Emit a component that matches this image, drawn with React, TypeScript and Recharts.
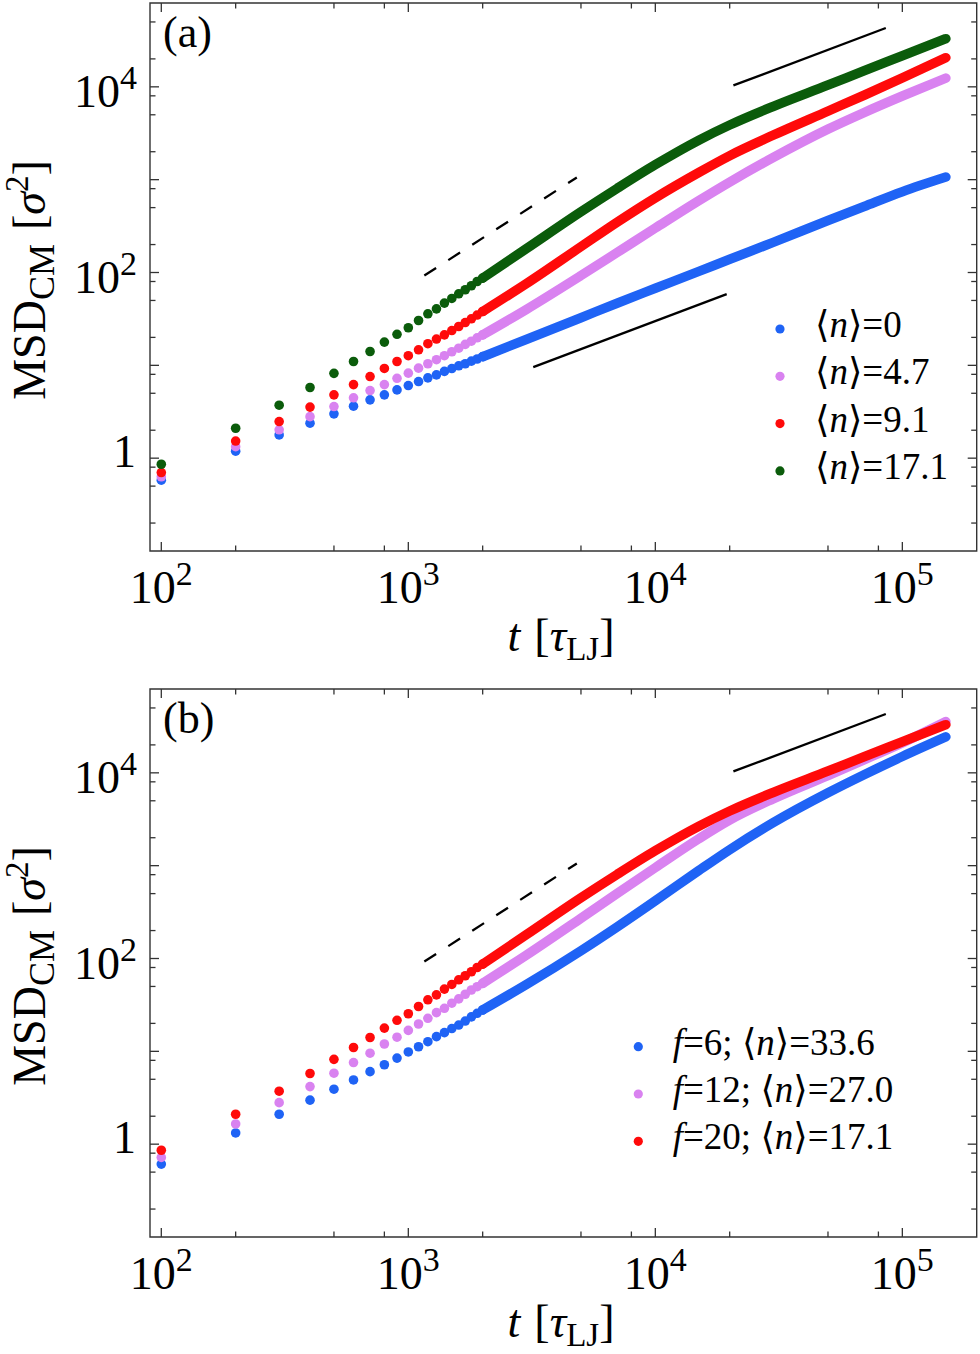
import React from 'react';
import {
  ComposedChart,
  Scatter,
  Line,
  XAxis,
  YAxis,
  ReferenceLine,
  ReferenceArea,
  Legend,
} from 'recharts';

// time points: separate dots up to 2000, dense band after that
const earlyT = [100, 200, 300, 400, 500, 600, 700, 800, 900, 1000, 1100, 1200, 1300, 1400, 1500, 1600, 1700, 1800, 1900, 2000];
const lateT = [2000, 3000, 5000, 7000, 10000, 15000, 20000, 30000, 50000, 70000, 100000, 150000];

// panel (a)
const n0Early = [0.58, 1.19, 1.78, 2.38, 3.0, 3.63, 4.25, 4.81, 5.44, 6.06, 6.69, 7.33, 7.9, 8.6, 9.24, 9.88, 10.4, 11.1, 11.7, 12.4];
const n0Late = [12.4, 18.95, 32.6, 46.7, 67.6, 102.8, 138.9, 211, 363, 515, 743, 1067];
const n47Early = [0.63, 1.33, 2.02, 2.8, 3.6, 4.47, 5.35, 6.2, 7.25, 8.24, 9.33, 10.4, 11.5, 12.7, 14.0, 15.3, 16.8, 18.2, 19.8, 21.3];
const n47Late = [21.3, 39.9, 92.7, 164, 301, 595, 943, 1732, 3502, 5281, 7958, 12430];
const n91Early = [0.7, 1.53, 2.48, 3.55, 4.81, 6.2, 7.57, 9.25, 11.0, 12.7, 14.7, 17.1, 19.2, 21.3, 23.7, 26.2, 28.9, 31.7, 34.8, 38];
const n91Late = [38, 75.7, 190, 348, 638, 1196, 1814, 3011, 5474, 8118, 12500, 20600];
// <n>=17.1 is the f=20 run, shown in both panels
const n171Early = [0.86, 2.1, 3.72, 5.77, 8.2, 11.0, 14.1, 17.8, 21.6, 25.4, 30.4, 35.9, 40.6, 46.8, 52.5, 59, 65.2, 72, 80, 87];
const n171Late = [87, 180, 451, 804, 1450, 2664, 3880, 6150, 10450, 14900, 21600, 33000];

// panel (b)
const f6Early = [0.61, 1.32, 2.1, 2.98, 3.91, 4.92, 6.04, 7.17, 8.46, 9.85, 11.2, 12.7, 14.4, 15.9, 17.6, 19.2, 21.2, 23.5, 25.7, 27.9];
const f6Late = [27.9, 52.3, 121.4, 218.8, 418.8, 887, 1488, 2905, 6095, 9530, 14990, 24390];
const f12Early = [0.72, 1.65, 2.8, 4.17, 5.81, 7.57, 9.55, 12.0, 14.2, 16.8, 19.7, 22.7, 26.1, 29.1, 33, 36.7, 41.2, 45.8, 49.7, 54];
const f12Late = [54, 108.4, 271.8, 501.5, 953, 1950, 3100, 5250, 9367, 13800, 21020, 35600];

// guide lines [t, msd] end points
const dashedGuide = [[1161, 92.8], [4810, 1057]];
const upperGuide = [[20700, 10350], [85700, 43000]];
const lowerGuide = [[3205, 9.56], [19450, 58.5]];

const xTicks = [100, 200, 500, 800, 1000, 2000, 5000, 8000, 10000, 20000, 50000, 80000, 100000];
const yTicks = [0.2, 0.5, 0.8, 1, 2, 5, 8, 10, 20, 50, 80, 100, 200, 500, 800, 1000, 2000, 5000, 8000, 10000, 20000, 50000];
const yLabelled = [1, 100, 10000];

const BLUE = '#1f63f5';
const PINK = '#d982f0';
const RED = '#ff0a0a';
const GREEN = '#0b5c0b';
const AXIS = '#333';
const FONT = '"Liberation Serif", "DejaVu Serif", serif';

const PLOT_TOP = 3;
const PLOT_LEFT = 150;
const PLOT_RIGHT = 976.7;
const DOT_R = 4.8;

const toPoints = (ts: number[], vs: number[]) => ts.map((t, i) => ({ t, v: vs[i] }));

const isMajor = (v: number) => {
  const e = Math.log10(v);
  return Math.abs(e - Math.round(e)) < 1e-6;
};

const XTick = (props: any) => {
  const { x, y, payload } = props;
  const v = payload.value;
  const len = isMajor(v) ? 9 : 5.5;
  return (
    <g>
      <line x1={x} y1={y} x2={x} y2={y - len} stroke={AXIS} strokeWidth={1.3} />
      <line x1={x} y1={PLOT_TOP} x2={x} y2={PLOT_TOP + len} stroke={AXIS} strokeWidth={1.3} />
      {isMajor(v) && (
        <text x={x} y={y + 52} textAnchor="middle" fontSize={46} fontFamily={FONT} fill="#000">
          10
          <tspan dy={-18} fontSize={34}>{Math.round(Math.log10(v))}</tspan>
        </text>
      )}
    </g>
  );
};

const YTick = (props: any) => {
  const { x, y, payload } = props;
  const v = payload.value;
  const len = isMajor(v) ? 9 : 5.5;
  let label = null;
  if (yLabelled.includes(v)) {
    label =
      v === 1 ? (
        <text x={x - 14} y={y + 9} textAnchor="end" fontSize={46} fontFamily={FONT} fill="#000">1</text>
      ) : (
        <text x={x - 13} y={y + 20} textAnchor="end" fontSize={46} fontFamily={FONT} fill="#000">
          10
          <tspan dy={-18} fontSize={34}>{Math.round(Math.log10(v))}</tspan>
        </text>
      );
  }
  return (
    <g>
      <line x1={x} y1={y} x2={x + len} y2={y} stroke={AXIS} strokeWidth={1.3} />
      <line x1={PLOT_RIGHT} y1={y} x2={PLOT_RIGHT - len} y2={y} stroke={AXIS} strokeWidth={1.3} />
      {label}
    </g>
  );
};

const YTitle = () => (
  <text
    x={45}
    y={280}
    transform="rotate(-90 45 280)"
    textAnchor="middle"
    fontSize={46}
    fontFamily={FONT}
    fill="#000"
  >
    MSD
    <tspan dy={9} fontSize={36}>CM</tspan>
    <tspan dy={-9} dx={14}>[</tspan>
    <tspan fontStyle="italic">σ</tspan>
    <tspan dy={-17} fontSize={33}>2</tspan>
    <tspan dy={17}>]</tspan>
  </text>
);

const XTitle = ({ tag }: { tag: string }) => (
  <g>
    <text x={561} y={651} textAnchor="middle" fontSize={46} fontFamily={FONT} fill="#000">
      <tspan fontStyle="italic">t</tspan>
      <tspan dx={14}>[</tspan>
      <tspan fontStyle="italic">τ</tspan>
      <tspan dy={9} fontSize={33}>LJ</tspan>
      <tspan dy={-9}>]</tspan>
    </text>
    <text x={163} y={47} fontSize={44} fontFamily={FONT} fill="#000">{tag}</text>
  </g>
);

interface Series {
  key: string;
  color: string;
  early: number[];
  late: number[];
  f?: string;
  n: string;
}

const seriesA: Series[] = [
  { key: 'n0', color: BLUE, early: n0Early, late: n0Late, n: '0' },
  { key: 'n47', color: PINK, early: n47Early, late: n47Late, n: '4.7' },
  { key: 'n91', color: RED, early: n91Early, late: n91Late, n: '9.1' },
  { key: 'n171', color: GREEN, early: n171Early, late: n171Late, n: '17.1' },
];

const seriesB: Series[] = [
  { key: 'f6', color: BLUE, early: f6Early, late: f6Late, f: '6', n: '33.6' },
  { key: 'f12', color: PINK, early: f12Early, late: f12Late, f: '12', n: '27.0' },
  { key: 'f20', color: RED, early: n171Early, late: n171Late, f: '20', n: '17.1' },
];

const LegendBox = ({ series, markX, textX, rowY, gap }: { series: Series[]; markX: number; textX: number; rowY: number; gap: number }) => (
  <svg width={320} height={200} style={{ display: 'block', overflow: 'visible' }}>
    {series.map((s, i) => (
      <g key={s.key}>
        <circle cx={markX} cy={rowY + i * gap} r={4.6} fill={s.color} />
        <text x={textX} y={rowY + i * gap + 8} fontSize={37} fontFamily={FONT} fill="#000">
          {s.f && <tspan fontStyle="italic">f</tspan>}
          {s.f && <tspan>{`=${s.f}; `}</tspan>}
          <tspan>⟨</tspan>
          <tspan fontStyle="italic">n</tspan>
          <tspan>{`⟩=${s.n}`}</tspan>
        </text>
      </g>
    ))}
  </svg>
);

const guide = (pts: number[][], dashed: boolean, key: string) => (
  <ReferenceLine
    key={key}
    segment={[
      { x: pts[0][0], y: pts[0][1] },
      { x: pts[1][0], y: pts[1][1] },
    ]}
    stroke="#000"
    strokeWidth={2.3}
    strokeDasharray={dashed ? '14 14.5' : undefined}
    ifOverflow="visible"
  />
);

const Panel = ({
  height,
  series,
  tag,
  lower,
  legendPos,
  legend,
}: {
  height: number;
  series: Series[];
  tag: string;
  lower: boolean;
  legendPos: { left: number; top: number };
  legend: { markX: number; textX: number; rowY: number; gap: number };
}) => (
  <ComposedChart width={980} height={height} margin={{ top: PLOT_TOP, right: 980 - PLOT_RIGHT, bottom: 0, left: 0 }}>
    <XAxis
      dataKey="t"
      type="number"
      scale="log"
      domain={[90, 200000]}
      allowDataOverflow
      ticks={xTicks}
      interval={0}
      height={height - 551}
      tickSize={0}
      tickMargin={0}
      axisLine={false}
      tickLine={false}
      tick={(p: any) => <XTick {...p} />}
      label={<XTitle tag={tag} />}
    />
    <YAxis
      dataKey="v"
      type="number"
      scale="log"
      domain={[0.1, 80000]}
      allowDataOverflow
      ticks={yTicks}
      interval={0}
      width={PLOT_LEFT}
      tickSize={0}
      tickMargin={0}
      axisLine={false}
      tickLine={false}
      tick={(p: any) => <YTick {...p} />}
      label={<YTitle />}
    />
    <ReferenceArea x1={90} x2={200000} y1={0.1} y2={80000} fill="none" stroke={AXIS} strokeWidth={1.4} />
    {guide(dashedGuide, true, 'dash')}
    {guide(upperGuide, false, 'up')}
    {lower && guide(lowerGuide, false, 'low')}
    {series.map((s) => [
      <Line
        key={s.key + '-line'}
        data={toPoints(lateT, s.late)}
        dataKey="v"
        type="monotone"
        stroke={s.color}
        strokeWidth={DOT_R * 2}
        strokeLinecap="round"
        dot={false}
        activeDot={false}
        isAnimationActive={false}
        legendType="none"
      />,
      <Scatter
        key={s.key + '-dots'}
        data={toPoints(earlyT, s.early)}
        dataKey="v"
        fill={s.color}
        isAnimationActive={false}
        shape={(p: any) => <circle cx={p.cx} cy={p.cy} r={DOT_R} fill={s.color} />}
      />,
    ])}
    <Legend
      layout="vertical"
      align="center"
      verticalAlign="middle"
      wrapperStyle={{ left: legendPos.left, top: legendPos.top, width: 320, height: 200 }}
      content={() => <LegendBox series={series} {...legend} />}
    />
  </ComposedChart>
);

export default function App() {
  return (
    <div style={{ width: 980, height: 1354, background: '#fff' }}>
      <style>{'body{margin:0;background:#fff}'}</style>
      <Panel
        height={686}
        series={seriesA}
        tag="(a)"
        lower
        legendPos={{ left: 760, top: 300 }}
        legend={{ markX: 20, textX: 55, rowY: 29, gap: 47.3 }}
      />
      <Panel
        height={668}
        series={seriesB}
        tag="(b)"
        lower={false}
        legendPos={{ left: 620, top: 334 }}
        legend={{ markX: 18.3, textX: 52.7, rowY: 26.7, gap: 47.3 }}
      />
    </div>
  );
}
